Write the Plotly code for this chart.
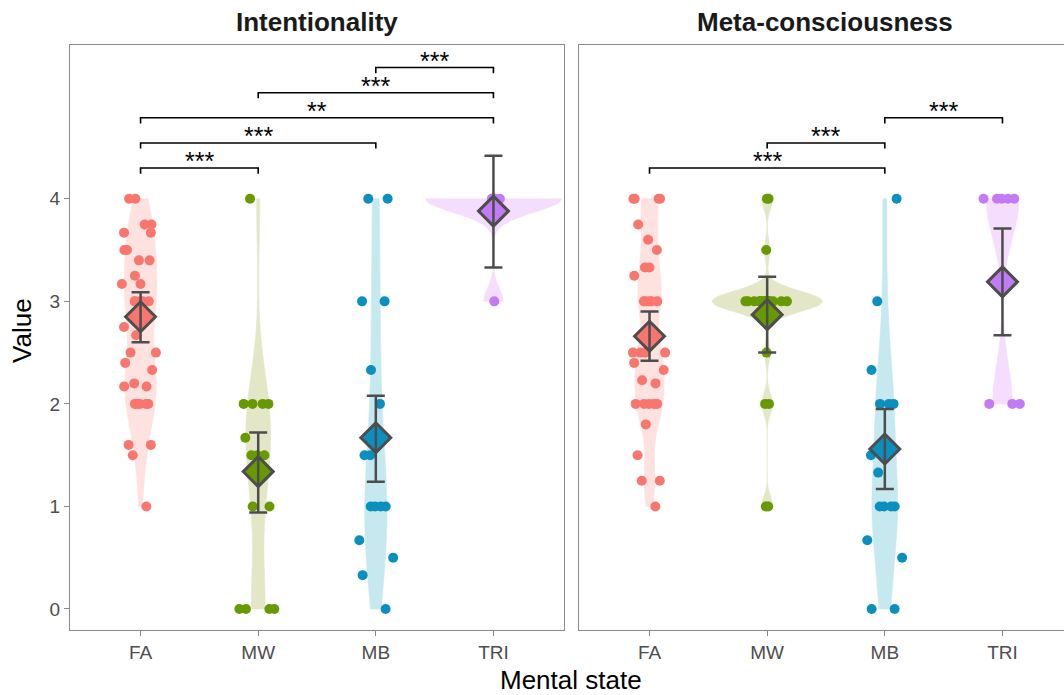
import plotly.graph_objects as go

# ---------------- data ----------------
categories = ["FA", "MW", "MB", "TRI"]
panel_titles = ["Intentionality", "Meta-consciousness"]

int_FA = [4, 4, 3.75, 3.75, 3.67, 3.67, 3.5, 3.5, 3.4, 3.4, 3.25, 3.17, 3.17,
          3, 3, 3, 3, 3, 2.75, 2.67, 2.5, 2.5, 2.4, 2.33, 2.2, 2.17, 2.17,
          2, 2, 2, 2, 2, 1.6, 1.6, 1.5, 1]
int_MW = [4, 2, 2, 2, 2, 1.67, 1.5, 1.5, 1.5, 1, 1, 0, 0, 0, 0]
int_MB = [4, 4, 3, 3, 2.33, 2, 1.5, 1.5, 1, 1, 1, 1, 0.67, 0.5, 0.33, 0]
int_TRI = [4, 4, 4, 4, 4, 4, 4, 3]

meta_FA = [4, 4, 4, 4, 3.75, 3.6, 3.5, 3.33, 3.33, 3.25, 3, 3, 3, 3, 3,
           2.5, 2.5, 2.5, 2.5, 2.4, 2.33, 2.23, 2.2, 2, 2, 2, 2, 2,
           1.8, 1.5, 1.25, 1.25, 1]
meta_MW = [4, 4, 3.5] + [3] * 20 + [2.5, 2, 2, 1, 1]
meta_MB = [4, 3, 2.33, 2, 2, 2, 1.5, 1.33, 1, 1, 1, 1, 0.67, 0.5, 0, 0]
meta_TRI = [4, 4, 4, 4, 4, 2, 2, 2]

int_means = [2.85, 1.34, 1.67, 3.88]
int_ci_low = [2.60, 0.94, 1.24, 3.33]
int_ci_high = [3.09, 1.72, 2.08, 4.42]
meta_means = [2.66, 2.87, 1.56, 3.19]
meta_ci_low = [2.42, 2.50, 1.17, 2.67]
meta_ci_high = [2.90, 3.24, 1.95, 3.71]

int_comparisons = [("FA", "MW", "***"), ("FA", "MB", "***"), ("FA", "TRI", "**"),
                   ("MW", "TRI", "***"), ("MB", "TRI", "***")]
meta_comparisons = [("FA", "MB", "***"), ("MW", "MB", "***"), ("MB", "TRI", "***")]

y_ticks = [0, 1, 2, 3, 4]

# ---------------- style ----------------
point_colors = {"FA": "#F8766D", "MW": "#679A00", "MB": "#0A8FBF", "TRI": "#C27AF5"}
fill_colors = {"FA": "#FDE2E0", "MW": "#E3E7C8", "MB": "#C6E8EF", "TRI": "#F4DDFD"}
violin_width = {
    0: {"FA": 0.28, "MW": 0.21, "MB": 0.19, "TRI": 1.16},
    1: {"FA": 0.25, "MW": 0.94, "MB": 0.22, "TRI": 0.28},
}
violin_bw = {
    0: {"FA": 0.28, "MW": 0.45, "MB": 0.55, "TRI": 0.13},
    1: {"FA": 0.22, "MW": 0.1, "MB": 0.45, "TRI": 0.38},
}
DARK = "#4D4D4D"
BORDER = "#8A8A8A"
FONT = "Liberation Sans"

panels = [
    ({"FA": int_FA, "MW": int_MW, "MB": int_MB, "TRI": int_TRI},
     int_means, int_ci_low, int_ci_high, int_comparisons),
    ({"FA": meta_FA, "MW": meta_MW, "MB": meta_MB, "TRI": meta_TRI},
     meta_means, meta_ci_low, meta_ci_high, meta_comparisons),
]

fig = go.Figure()

for p, (groups, means, lo, hi, comps) in enumerate(panels):
    xa = "x" if p == 0 else "x2"
    ya = "y" if p == 0 else "y2"
    # violins
    for c in categories:
        vals = groups[c]
        fig.add_trace(go.Violin(
            x=[c] * len(vals), y=vals, xaxis=xa, yaxis=ya,
            fillcolor=fill_colors[c], line=dict(color=fill_colors[c], width=0.5),
            points=False, spanmode="hard", scalemode="width",
            width=violin_width[p][c], bandwidth=violin_bw[p][c],
            scalegroup=f"{p}{c}", hoverinfo="skip", showlegend=False,
        ))
    # jittered points
    for c in categories:
        vals = groups[c]
        fig.add_trace(go.Box(
            x=[c] * len(vals), y=vals, xaxis=xa, yaxis=ya,
            boxpoints="all", jitter=0.95, pointpos=0, width=0.4,
            fillcolor="rgba(0,0,0,0)", line=dict(color="rgba(0,0,0,0)", width=0),
            whiskerwidth=0,
            marker=dict(color=point_colors[c], size=10, opacity=1),
            hoverinfo="skip", showlegend=False,
        ))
    # mean diamonds
    fig.add_trace(go.Scatter(
        x=categories, y=means, xaxis=xa, yaxis=ya, mode="markers",
        marker=dict(symbol="diamond", size=23,
                    color=[point_colors[c] for c in categories],
                    line=dict(color=DARK, width=3)),
        hoverinfo="skip", showlegend=False,
    ))
    # error bars on top
    fig.add_trace(go.Scatter(
        x=categories, y=means, xaxis=xa, yaxis=ya, mode="markers",
        marker=dict(size=2, color="rgba(0,0,0,0)"),
        error_y=dict(type="data", symmetric=False,
                     array=[h - m for h, m in zip(hi, means)],
                     arrayminus=[m - l for m, l in zip(means, lo)],
                     color=DARK, thickness=2.5, width=9),
        hoverinfo="skip", showlegend=False,
    ))
    # significance brackets
    base, step, drop = 4.30, 0.245, 0.055
    for k, (a, b, lab) in enumerate(comps):
        h = base + step * k
        fig.add_trace(go.Scatter(
            x=[a, a, b, b], y=[h - drop, h, h, h - drop], xaxis=xa, yaxis=ya,
            mode="lines", line=dict(color="black", width=1.6),
            hoverinfo="skip", showlegend=False,
        ))
        xm = (categories.index(a) + categories.index(b)) / 2
        fig.add_annotation(
            x=xm, y=h, xref=xa, yref=ya, text=lab, showarrow=False,
            xanchor="center", yanchor="bottom", yshift=-9,
            font=dict(family=FONT, size=25, color="black"),
        )

axis_common = dict(
    showgrid=False, zeroline=False, showline=True, linecolor=BORDER, linewidth=1.3,
    ticks="outside", ticklen=5, tickcolor=BORDER, tickwidth=1.3,
    tickfont=dict(family=FONT, size=19, color=DARK),
)

fig.update_layout(
    width=1064, height=695,
    margin=dict(l=70, r=0, t=45, b=65),
    plot_bgcolor="white", paper_bgcolor="white",
    violinmode="overlay", boxmode="overlay",
    showlegend=False,
    xaxis=dict(domain=[0, 0.497], type="category", categoryorder="array",
               categoryarray=categories, range=[-0.6, 3.6], mirror=True, anchor="y",
               **axis_common),
    xaxis2=dict(domain=[0.512, 1], type="category", categoryorder="array",
                categoryarray=categories, range=[-0.6, 3.523], mirror=True, anchor="y2",
                **axis_common),
    yaxis=dict(range=[-0.205, 5.5], tickvals=y_ticks, mirror=True, anchor="x",
               **axis_common),
    yaxis2=dict(range=[-0.205, 5.5], tickvals=y_ticks, anchor="x2",
                showticklabels=False, mirror=False,
                **{k: v for k, v in axis_common.items() if k not in ("ticks",)},
                ticks=""),
)

# panel titles
fig.add_annotation(x=0.2485, y=1.039, xref="paper", yref="paper", text="<b>Intentionality</b>",
                   xanchor="center", yanchor="middle",
                   showarrow=False, font=dict(family=FONT, size=26, color="#1A1A1A"))
fig.add_annotation(x=0.7596, y=1.039, xref="paper", yref="paper", text="<b>Meta-consciousness</b>",
                   xanchor="center", yanchor="middle",
                   showarrow=False, font=dict(family=FONT, size=26, color="#1A1A1A"))
# axis titles
fig.add_annotation(x=0.504, y=-0.0855, xref="paper", yref="paper", text="Mental state",
                   xanchor="center", yanchor="middle",
                   showarrow=False, font=dict(family=FONT, size=26, color="black"))
fig.add_annotation(x=-0.0483, y=0.513, xref="paper", yref="paper", text="Value", textangle=-90,
                   xanchor="center", yanchor="middle",
                   showarrow=False, font=dict(family=FONT, size=26, color="black"))

fig.write_html(
    "out.html",
    config={"displayModeBar": False},
    post_script="document.body.style.margin='0';document.body.style.overflow='hidden';",
)
